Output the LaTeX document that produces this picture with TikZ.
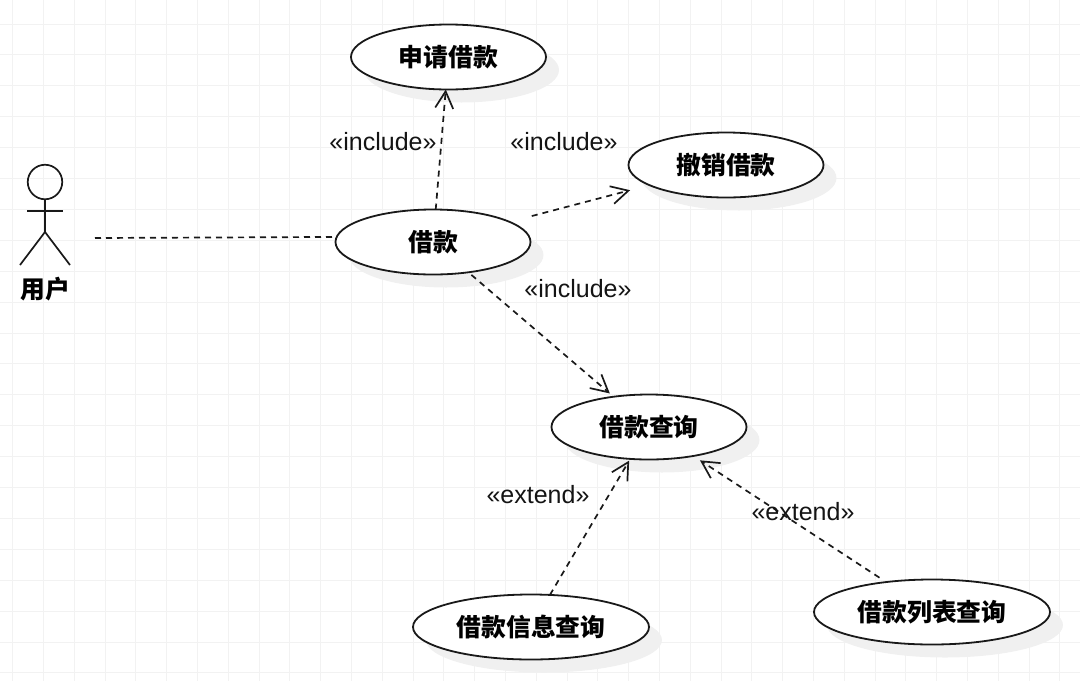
\documentclass[tikz,border=0pt]{standalone}
\usepackage{fontspec}
\setmainfont{Liberation Sans}
\newfontfamily\cjk{Noto Sans CJK SC}
\usetikzlibrary{shapes.geometric,arrows.meta,shadows}

\begin{document}
\begin{tikzpicture}[
        %We set the scale and define some styles
        x=1pt, y=-1pt,
        grid line/.style={color=black!5, line width=1pt},
        usecase/.style={ellipse, draw=black!90, line width=1.8pt, fill=white, inner sep=0pt, outer sep=0pt,
            minimum width=195pt, minimum height=65pt, font=\fontsize{24.8}{28}\cjk\bfseries,
            drop shadow={shadow xshift=13pt, shadow yshift=-13pt, fill=black!6, opacity=1}},
        wide usecase/.style={usecase, minimum width=236pt},
        plain dep/.style={dashed, dash pattern=on 6pt off 5pt, line width=1.7pt, color=black!90},
        dep line/.style={plain dep,
            -{Straight Barb[length=17pt, width=18pt, line width=1.7pt]}},
        stereo/.style={font=\fontsize{25}{28}\selectfont, color=black!92, inner sep=0pt},
        actor line/.style={line width=1.7pt, color=black!90}
     ]
    \useasboundingbox (0,0) rectangle (1080,681);
    % background grid
    \foreach \gx in {12.7,43.5,...,1080}
        \draw[grid line] (\gx,0) -- (\gx,681);
    \foreach \gy in {24,54.9,...,681}
        \draw[grid line] (0,\gy) -- (1080,\gy);

    % use cases
    \node[usecase] (apply) at (448.5,57) {申请借款};
    \node[usecase] (cancel) at (726,165) {撤销借款};
    \node[usecase] (loan) at (433,242) {借款};
    \node[usecase] (query) at (649,427) {借款查询};
    \node[wide usecase] (info) at (531,627) {借款信息查询};
    \node[wide usecase] (list) at (932,612) {借款列表查询};

    % the actor
    \coordinate (hip) at (45,232);
    \coordinate (port) at (95,238);
    \node[draw=black!90, line width=1.7pt, circle, minimum size=34.5pt, inner sep=0pt] (head) at (45,182) {};
    \draw[actor line] (head.south) -- (hip);
    \draw[actor line] (27,211) -- (63,211);
    \draw[actor line] (20,265) -- (hip) -- (70,265);
    \node[font=\fontsize{24.8}{28}\cjk\bfseries, inner sep=0pt] (user) at (45,289) {用户};

    % dependencies
    \draw[plain dep] (port) -- (loan.177);
    \draw[dep line] (loan) -- (apply);
    \draw[dep line, shorten <=23pt, shorten >=20pt] (loan) -- (cancel);
    \draw[dep line, shorten <=4pt, shorten >=5pt] (loan) -- (query);
    \draw[dep line, shorten >=2pt] (info) -- (query);
    \draw[dep line, shorten <=8pt, shorten >=8pt] (list) -- (query);

    % stereotypes
    \node[stereo] (incl_a) at (383,142) {«include»};
    \node[stereo] (incl_b) at (564,142) {«include»};
    \node[stereo] (incl_c) at (578,289) {«include»};
    \node[stereo] (ext_a) at (538,495) {«extend»};
    \node[stereo] (ext_b) at (803,512) {«extend»};
\end{tikzpicture}
\end{document}
